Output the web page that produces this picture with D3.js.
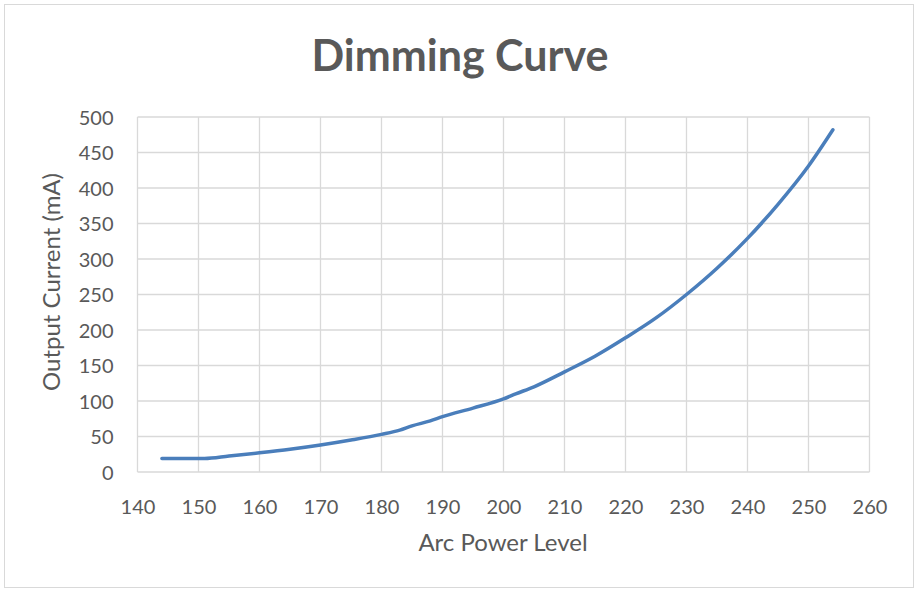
<!DOCTYPE html>
<html>
<head>
<meta charset="utf-8">
<script src="https://cdn.jsdelivr.net/npm/d3@7/dist/d3.min.js"></script>
<style>
  body { margin: 0; background: #fff; }
  text { font-family: Lato, "Open Sans", sans-serif; fill: #595959; }
</style>
</head>
<body>
<svg id="chart" width="915" height="590"></svg>
<script>
// arc power level vs. output current
const levels   = [144, 151, 155, 160, 165, 170, 175, 180, 183, 185, 188, 190, 195, 200, 202, 205, 210, 215, 220, 225, 230, 235, 240, 245, 250, 254];
const currents = [19, 19, 22.5, 27, 32, 38, 45, 53, 59, 65, 72, 78, 90, 103, 110, 120, 141, 163, 189, 217, 250, 287, 329, 377, 431, 482];
const xTicks = [140, 150, 160, 170, 180, 190, 200, 210, 220, 230, 240, 250, 260];
const yTicks = [0, 50, 100, 150, 200, 250, 300, 350, 400, 450, 500];

const svg = d3.select('#chart');
const plot = { left: 137.5, right: 869.5, top: 117, bottom: 472 };

// chart frame
svg.append('rect')
  .attr('x', 4.5).attr('y', 4.5)
  .attr('width', 909).attr('height', 583)
  .attr('fill', '#fff')
  .attr('stroke', '#d9d9d9');

const x = d3.scaleLinear().domain([140, 260]).range([plot.left, plot.right]);
const y = d3.scaleLinear().domain([0, 500]).range([plot.bottom, plot.top]);

// gridlines
const grid = svg.append('g').attr('stroke', '#d9d9d9').attr('stroke-width', 1.3);
grid.selectAll('.vg').data(xTicks).join('line')
  .attr('x1', d => x(d)).attr('x2', d => x(d))
  .attr('y1', plot.top).attr('y2', plot.bottom);
grid.selectAll('.hg').data(yTicks).join('line')
  .attr('x1', plot.left).attr('x2', plot.right)
  .attr('y1', d => y(d)).attr('y2', d => y(d));

// axes
const xAxis = svg.append('g')
  .attr('transform', `translate(0,${plot.bottom})`)
  .call(d3.axisBottom(x).tickValues(xTicks).tickSize(0).tickPadding(28));
const yAxis = svg.append('g')
  .attr('transform', `translate(${plot.left},0)`)
  .call(d3.axisLeft(y).tickValues(yTicks).tickSize(0).tickPadding(24));
[xAxis, yAxis].forEach(ax => {
  ax.select('.domain').remove();
  ax.selectAll('text').attr('font-size', 20).style('font-family', 'Lato, sans-serif').attr('fill', '#595959');
});
yAxis.selectAll('text').attr('dy', '0.35em');

// the curve
const line = d3.line()
  .x((d, i) => x(levels[i]))
  .y(d => y(d))
  .curve(d3.curveMonotoneX);
svg.append('path')
  .datum(currents)
  .attr('fill', 'none')
  .attr('stroke', '#4a7ebb')
  .attr('stroke-width', 3.5)
  .attr('stroke-linecap', 'round')
  .attr('d', line);

// titles
svg.append('text')
  .attr('x', 460).attr('y', 71)
  .attr('text-anchor', 'middle')
  .attr('font-size', 43).attr('font-weight', 'bold')
  .text('Dimming Curve');
svg.append('text')
  .attr('x', 503).attr('y', 551)
  .attr('text-anchor', 'middle')
  .attr('font-size', 24)
  .text('Arc Power Level');
svg.append('text')
  .attr('transform', 'translate(60,282) rotate(-90)')
  .attr('text-anchor', 'middle')
  .attr('font-size', 24)
  .text('Output Current (mA)');
</script>
</body>
</html>
